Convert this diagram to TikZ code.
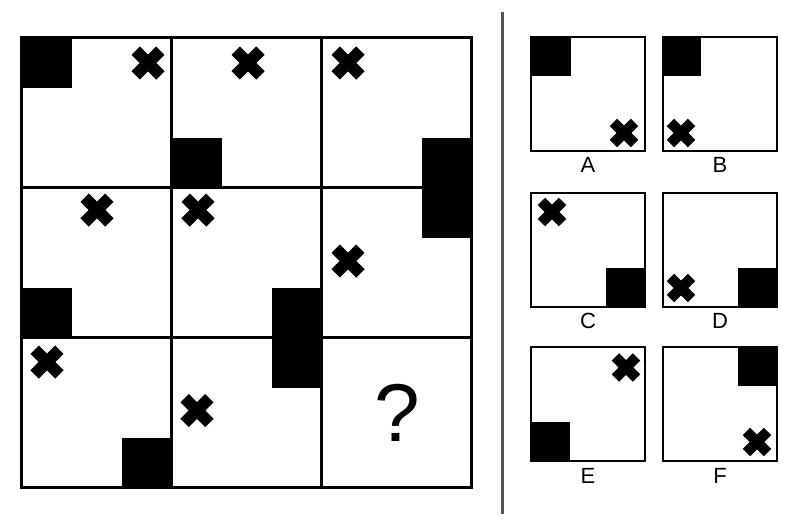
\documentclass[tikz,border=0pt]{standalone}
\usepackage{fontspec}
\setmainfont{Liberation Sans}
\definecolor{divgray}{HTML}{555555}
\tikzset{
  xm/.pic={\fill[rotate=45] (-6,-17.5) -- (6,-17.5) -- (6,-6) -- (17.5,-6) -- (17.5,6) -- (6,6) -- (6,17.5) -- (-6,17.5) -- (-6,6) -- (-17.5,6) -- (-17.5,-6) -- (-6,-6) -- cycle;},
  xs/.pic={\fill[rotate=45] (-5.2,-15) -- (5.2,-15) -- (5.2,-5.2) -- (15,-5.2) -- (15,5.2) -- (5.2,5.2) -- (5.2,15) -- (-5.2,15) -- (-5.2,5.2) -- (-15,5.2) -- (-15,-5.2) -- (-5.2,-5.2) -- cycle;},
  gridline/.style={line width=3pt},
  optbox/.style={line width=2.6pt},
  optlabel/.style={anchor=base, font=\fontsize{22}{22}\selectfont, inner sep=0pt},
}
\begin{document}
\begin{tikzpicture}[x=1pt,y=-1pt]
\useasboundingbox (0,0) rectangle (800,525);
% main grid black blocks
\fill (21.5,37.5) rectangle (72,88);
\fill (171.5,137.5) rectangle (222,187.5);
\fill (422,137.5) rectangle (471.5,238);
\fill (21.5,287.5) rectangle (72,337.5);
\fill (272,287.5) rectangle (321.5,388);
\fill (122,437.5) rectangle (171.5,487.5);
% crosses
\pic at (148,63) {xm};
\pic at (248,63) {xm};
\pic at (348,63) {xm};
\pic at (97,210) {xm};
\pic at (198,210) {xm};
\pic at (348,261) {xm};
\pic at (47,362) {xm};
\pic at (197,410.5) {xm};
% grid lines
\draw[gridline] (21.5,37.5) rectangle (471.5,487.5);
\draw[gridline] (171.5,37.5) -- (171.5,487.5);
\draw[gridline] (321.5,37.5) -- (321.5,487.5);
\draw[gridline] (21.5,187.5) -- (471.5,187.5);
\draw[gridline] (21.5,337.5) -- (471.5,337.5);
\node[anchor=base, font=\fontsize{82}{82}\selectfont, inner sep=0pt] (q) at (397,441.7) {?};
% divider
\draw[divgray, line width=3pt] (502.5,12) -- (502.5,514);
% options
% A
\fill (531,37) rectangle (571,76);
\pic at (624,133) {xs};
\draw[optbox] (531,37) rectangle (645,151);
\node[optlabel] (la) at (588,172.5) {A};
% B
\fill (663,37) rectangle (701,76);
\pic at (681,133) {xs};
\draw[optbox] (663,37) rectangle (777,151);
\node[optlabel] (lb) at (720,172.5) {B};
% C
\fill (606,268) rectangle (645,307);
\pic at (552,212) {xs};
\draw[optbox] (531,193) rectangle (645,307);
\node[optlabel] (lc) at (588,328.5) {C};
% D
\fill (738,268) rectangle (777,307);
\pic at (681,288) {xs};
\draw[optbox] (663,193) rectangle (777,307);
\node[optlabel] (ld) at (720,328.5) {D};
% E
\fill (531,422) rectangle (570,461);
\pic at (626,367.5) {xs};
\draw[optbox] (531,347) rectangle (645,461);
\node[optlabel] (le) at (588,483.5) {E};
% F
\fill (738,347) rectangle (777,386);
\pic at (757,442) {xs};
\draw[optbox] (663,347) rectangle (777,461);
\node[optlabel] (lf) at (720,483.5) {F};
\end{tikzpicture}
\end{document}
